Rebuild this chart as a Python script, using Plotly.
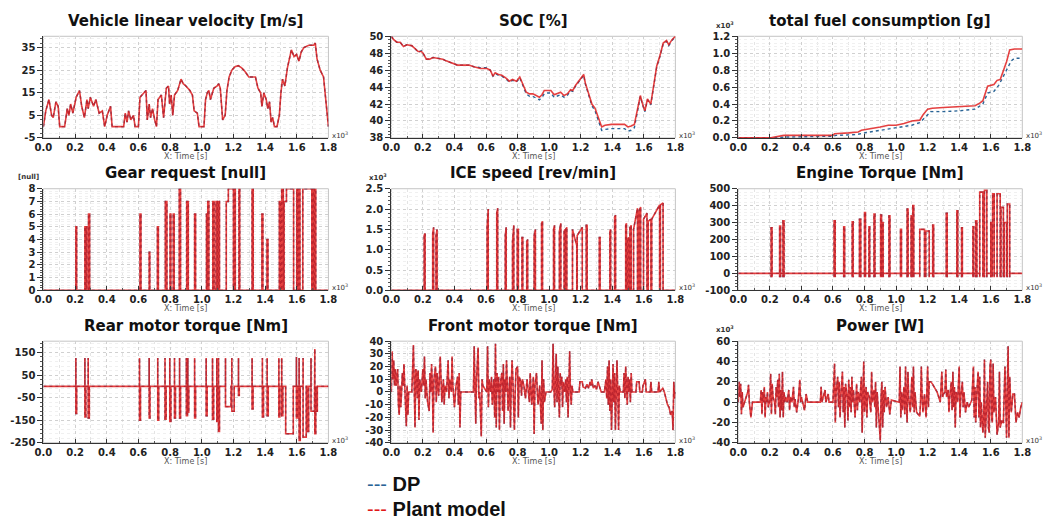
import plotly.graph_objects as go

# ---------------- DATA ----------------
x_ticks = [0.0, 0.2, 0.4, 0.6, 0.8, 1.0, 1.2, 1.4, 1.6, 1.8]

# Vehicle linear velocity [m/s] (time in x10^3 s)
vel_t = [0.0, 0.015, 0.035, 0.052, 0.062, 0.079, 0.093, 0.103, 0.134, 0.151, 0.161, 0.172, 0.186, 0.207,
         0.228, 0.242, 0.259, 0.275, 0.283, 0.296, 0.317, 0.331, 0.352, 0.372, 0.387, 0.403, 0.424, 0.434,
         0.507, 0.517, 0.528, 0.538, 0.552, 0.569, 0.579, 0.600, 0.610, 0.635, 0.648, 0.656, 0.668, 0.677,
         0.689, 0.703, 0.714, 0.724, 0.745, 0.759, 0.776, 0.790, 0.797, 0.807, 0.817, 0.828, 0.848, 0.869,
         0.883, 0.900, 0.925, 0.941, 0.952, 0.972, 0.983, 1.014, 1.024, 1.035, 1.045, 1.055, 1.076, 1.097,
         1.107, 1.117, 1.132, 1.148, 1.159, 1.173, 1.190, 1.210, 1.231, 1.252, 1.272, 1.297, 1.324, 1.339,
         1.355, 1.372, 1.380, 1.392, 1.407, 1.417, 1.428, 1.438, 1.448, 1.459, 1.475, 1.490, 1.500, 1.510,
         1.525, 1.541, 1.566, 1.583, 1.599, 1.614, 1.628, 1.645, 1.676, 1.707, 1.717, 1.728, 1.748, 1.769, 1.800]
vel_v = [0, 7, 12, 5, 4, 11, 9, 0, 0, 8, 5, 10, 6, 13,
         16, 9, 4, 12, 8, 13, 9, 12, 6, 7, 0, 5, 9, 0,
         0, 6, 2, 7, 3, 5, 0, 0, 13, 15, 16, 3, 10, 4,
         8, 3, 0, 12, 14, 4, 17, 18, 10, 14, 5, 14, 16, 21,
         19, 18, 16, 14, 7, 6, 0, 0, 12, 15, 16, 12, 17, 18,
         19, 17, 3, 5, 16, 22, 25, 26.5, 27, 26, 24.5, 22, 22, 22,
         17, 15, 9, 15, 12, 8, 11, 2, 4, 0, 0, 5, 15, 21,
         18, 26, 34, 31, 32, 29, 33, 35, 36, 36, 37, 30, 25, 22, 0]

# SOC [%]
soc_t = [0.0, 0.015, 0.035, 0.056, 0.077, 0.098, 0.129, 0.149, 0.170, 0.191, 0.201, 0.222, 0.243, 0.264,
         0.295, 0.326, 0.347, 0.378, 0.419, 0.461, 0.492, 0.523, 0.565, 0.606, 0.627, 0.644, 0.658, 0.679,
         0.700, 0.731, 0.747, 0.768, 0.793, 0.814, 0.830, 0.845, 0.855, 0.876, 0.897, 0.918, 0.938, 0.955,
         0.969, 0.990, 1.011, 1.032, 1.053, 1.073, 1.094, 1.115, 1.136, 1.150, 1.167, 1.188, 1.208, 1.219,
         1.229, 1.250, 1.271, 1.291, 1.312, 1.333, 1.354, 1.395, 1.437, 1.478, 1.499, 1.520, 1.540, 1.557,
         1.578, 1.592, 1.607, 1.623, 1.644, 1.661, 1.682, 1.702, 1.723, 1.744, 1.758, 1.779, 1.800]
soc_plant = [50, 49.6, 49.3, 49.3, 48.8, 49.0, 48.9, 48.6, 48.2, 48.2, 48.0, 47.3, 47.3, 47.5,
             47.4, 47.3, 47.1, 46.9, 46.6, 46.6, 46.6, 46.4, 46.2, 46.2, 46.0, 45.3, 45.7, 45.5,
             45.4, 45.0, 44.7, 44.9, 44.7, 45.2, 44.5, 44.0, 43.4, 43.2, 43.2, 43.0, 42.8, 43.1,
             43.6, 43.6, 43.6, 43.1, 43.3, 43.4, 43.0, 43.2, 43.7, 43.6, 44.2, 44.7, 45.2, 45.5,
             44.5, 43.3, 42.0, 41.5, 40.5, 39.3, 39.5, 39.6, 39.6, 39.6, 39.3, 39.4, 39.6, 41.0,
             43.0, 42.0, 41.2, 42.6, 42.0, 44.0, 46.5, 47.7, 49.2, 49.5, 49.0, 49.6, 50]
soc_dp = [50, 49.6, 49.3, 49.3, 48.8, 49.0, 48.9, 48.6, 48.1, 48.3, 48.0, 47.3, 47.3, 47.5,
          47.4, 47.3, 47.1, 46.9, 46.6, 46.6, 46.6, 46.4, 46.3, 46.3, 46.0, 45.3, 45.6, 45.4,
          45.3, 44.9, 44.6, 44.8, 44.6, 45.1, 44.4, 43.8, 43.2, 42.9, 42.9, 42.7, 42.5, 42.8,
          43.2, 43.3, 43.3, 42.8, 43.0, 43.1, 42.8, 43.0, 43.6, 43.5, 44.1, 44.6, 45.1, 45.4,
          44.4, 43.1, 41.8, 41.2, 40.1, 38.9, 39.0, 39.1, 39.1, 39.1, 38.8, 38.9, 39.2, 40.8,
          42.9, 41.9, 41.1, 42.5, 41.9, 43.9, 46.4, 47.6, 49.1, 49.4, 48.9, 49.5, 50]

# total fuel consumption [g] (x10^3)
fuel_plant_t = [0.0, 0.2, 0.23, 0.27, 0.29, 0.6, 0.61, 0.7, 0.76, 0.78, 0.85, 0.9, 0.95, 1.0, 1.05, 1.1,
                1.15, 1.17, 1.2, 1.23, 1.3, 1.4, 1.45, 1.5, 1.53, 1.55, 1.58, 1.6, 1.62, 1.64, 1.66, 1.7,
                1.72, 1.75, 1.8]
fuel_plant = [0, 0, 0.01, 0.02, 0.03, 0.03, 0.05, 0.06, 0.07, 0.09, 0.11, 0.13, 0.15, 0.15, 0.17, 0.20,
              0.21, 0.27, 0.34, 0.35, 0.36, 0.37, 0.38, 0.38, 0.41, 0.44, 0.61, 0.62, 0.63, 0.68, 0.69, 0.90,
              1.04, 1.05, 1.05]
fuel_dp_t = [0.0, 0.2, 0.3, 0.6, 0.62, 0.75, 0.8, 0.9, 1.0, 1.1, 1.15, 1.2, 1.22, 1.3, 1.4, 1.5, 1.55,
             1.58, 1.62, 1.65, 1.7, 1.73, 1.75, 1.8]
fuel_dp = [0, 0, 0.01, 0.02, 0.03, 0.04, 0.06, 0.09, 0.12, 0.15, 0.18, 0.27, 0.31, 0.31, 0.32, 0.34, 0.40,
           0.53, 0.55, 0.62, 0.80, 0.91, 0.94, 0.94]

# Gear request [null] (step series)
gear_t = [0.0, 0.205, 0.21, 0.262, 0.267, 0.27, 0.274, 0.285, 0.292, 0.61, 0.616, 0.668, 0.672, 0.72, 0.726,
          0.77, 0.78, 0.8, 0.805, 0.82, 0.826, 0.858, 0.866, 0.905, 0.915, 0.955, 0.961, 1.03, 1.034, 1.038,
          1.045, 1.07, 1.078, 1.09, 1.098, 1.104, 1.112, 1.155, 1.168, 1.2, 1.205, 1.212, 1.235, 1.24, 1.318,
          1.325, 1.38, 1.386, 1.412, 1.418, 1.49, 1.496, 1.505, 1.515, 1.52, 1.535, 1.58, 1.6, 1.605, 1.612,
          1.62, 1.638, 1.695, 1.7, 1.706, 1.712, 1.72, 1.8]
gear_v = [0, 5, 0, 5, 0, 5, 0, 6, 0, 6, 0, 3, 0, 5, 0,
          7, 0, 6, 0, 6, 0, 8, 0, 7, 0, 6, 0, 6, 0, 7,
          0, 7, 0, 7, 0, 7, 0, 7, 8, 0, 8, 0, 8, 0, 8,
          0, 6, 0, 4, 0, 7, 0, 8, 0, 7, 8, 0, 8, 0, 8,
          0, 8, 0, 8, 0, 8, 0, 0]

# ICE speed [rev/min] (x10^3): pulses start, end, level at start, level at end
ice_start = [0.208, 0.262, 0.283, 0.607, 0.668, 0.722, 0.768, 0.798, 0.828, 0.858, 0.905, 0.952, 1.028, 1.065,
             1.095, 1.105, 1.148, 1.178, 1.235, 1.318, 1.385, 1.415, 1.485, 1.495, 1.512, 1.535, 1.57, 1.598,
             1.628, 1.65, 1.705]
ice_end = [0.214, 0.268, 0.29, 0.614, 0.674, 0.728, 0.776, 0.805, 0.833, 0.864, 0.913, 0.958, 1.034, 1.074,
           1.1, 1.112, 1.175, 1.21, 1.241, 1.323, 1.39, 1.421, 1.49, 1.505, 1.52, 1.56, 1.58, 1.62,
           1.645, 1.7, 1.722]
ice_lvl_a = [1.35, 1.4, 1.35, 1.55, 1.9, 1.35, 1.2, 1.5, 1.3, 1.2, 1.35, 1.65, 1.5, 1.45,
             1.45, 1.5, 1.5, 1.35, 1.6, 1.3, 1.45, 1.8, 1.6, 1.25, 1.55, 1.5, 1.95, 1.75,
             1.7, 1.75, 2.1]
ice_lvl_b = [1.4, 1.55, 1.5, 2.0, 2.02, 1.55, 1.6, 1.5, 1.3, 1.25, 1.5, 1.7, 1.6, 1.65,
             1.5, 1.55, 1.1, 1.55, 1.6, 1.3, 1.5, 1.85, 1.65, 1.3, 1.6, 2.02, 2.05, 1.9,
             1.75, 2.1, 2.15]

# Engine Torque [Nm]: pulses start, end, level
eng_start = [0.208, 0.262, 0.283, 0.607, 0.668, 0.722, 0.768, 0.8, 0.828, 0.86, 0.902, 0.912, 0.955, 1.028,
             1.07, 1.095, 1.106, 1.15, 1.188, 1.232, 1.318, 1.385, 1.415, 1.487, 1.505, 1.53, 1.56, 1.6,
             1.612, 1.64, 1.665, 1.685, 1.705]
eng_end = [0.214, 0.268, 0.29, 0.614, 0.674, 0.728, 0.776, 0.806, 0.833, 0.866, 0.908, 0.918, 0.961, 1.034,
           1.076, 1.1, 1.112, 1.18, 1.21, 1.238, 1.324, 1.391, 1.42, 1.492, 1.512, 1.55, 1.575, 1.61,
           1.622, 1.66, 1.68, 1.7, 1.72]
eng_lvl = [270, 280, 310, 310, 275, 305, 320, 360, 275, 350, 345, 300, 340, 260,
           380, 340, 400, 260, 250, 285, 355, 370, 270, 275, 310, 480, 490, 300,
           470, 470, 390, 300, 410]
eng_dip = -22

# Rear motor torque [Nm]: pulses start, end, positive peak, negative level
rear_start = [0.205, 0.262, 0.283, 0.607, 0.668, 0.722, 0.768, 0.798, 0.828, 0.86, 0.903, 0.912, 0.955, 1.028,
              1.068, 1.095, 1.106, 1.15, 1.19, 1.232, 1.318, 1.383, 1.413, 1.487, 1.505, 1.53, 1.598, 1.615,
              1.64, 1.665, 1.69, 1.714, 1.722]
rear_end = [0.21, 0.268, 0.29, 0.613, 0.673, 0.728, 0.775, 0.805, 0.834, 0.866, 0.91, 0.918, 0.961, 1.034,
            1.075, 1.1, 1.112, 1.185, 1.205, 1.237, 1.324, 1.39, 1.42, 1.493, 1.512, 1.578, 1.605, 1.622,
            1.66, 1.675, 1.712, 1.72, 1.73]
rear_peak = [125, 125, 125, 125, 125, 125, 125, 125, 125, 125, 125, 125, 125, 125,
             125, 125, 125, 125, 125, 125, 125, 125, 125, 125, 125, 0, 130, 125,
             125, 0, 125, 165, 0]
rear_low = [-120, -135, -140, -150, -140, -150, -145, -155, -140, -140, -130, -115, -140, -130,
            -145, -155, -200, -90, -110, -40, -100, -135, -130, -135, -130, -210, -140, -240,
            -225, -200, -110, -210, -110]

# Front motor torque [Nm]
front_pts = [(0.0, 0), (0.005, 32), (0.01, 10), (0.015, 25), (0.02, 5), (0.025, 18), (0.03, 5), (0.04, 18),
             (0.045, -10), (0.05, -18), (0.055, 5), (0.06, -12), (0.065, 0), (0.07, 15), (0.075, 5), (0.08, 22),
             (0.085, 5), (0.09, -8), (0.095, -27), (0.1, 5), (0.105, -18), (0.11, 0), (0.13, 0), (0.14, 37),
             (0.145, 10), (0.15, -28), (0.155, 18), (0.16, 15), (0.165, -5), (0.17, 17), (0.175, -22), (0.18, 10),
             (0.19, 0), (0.2, 18), (0.205, 5), (0.21, 28), (0.215, -5), (0.22, 10), (0.225, 0), (0.23, -8),
             (0.24, -15), (0.245, 15), (0.25, 0), (0.255, 22), (0.26, 5), (0.265, -32), (0.27, 10), (0.28, 20),
             (0.285, -8), (0.29, 15), (0.295, 5), (0.3, -3), (0.31, 28), (0.315, 5), (0.32, -8), (0.33, 10),
             (0.335, -10), (0.34, 5), (0.35, 0), (0.36, 25), (0.365, -5), (0.37, 10), (0.38, 0), (0.385, 28),
             (0.39, 5), (0.4, -12), (0.41, 5), (0.42, 12), (0.425, -10), (0.43, 15), (0.435, -28), (0.44, 0),
             (0.52, 0), (0.525, 36), (0.53, 0), (0.535, -25), (0.54, 10), (0.55, 35), (0.555, -5), (0.56, 0),
             (0.57, -35), (0.575, 10), (0.58, 5), (0.6, 0), (0.605, 0), (0.61, 36), (0.615, -12), (0.62, 10),
             (0.63, 0), (0.635, 12), (0.64, -10), (0.65, 10), (0.655, -20), (0.66, 38), (0.665, -28), (0.67, 15),
             (0.675, 0), (0.68, 12), (0.685, -30), (0.69, 5), (0.7, 15), (0.705, -15), (0.71, 22), (0.715, -25),
             (0.72, 10), (0.725, 0), (0.73, 25), (0.735, 5), (0.74, -15), (0.75, 12), (0.755, -28), (0.76, 5),
             (0.765, 25), (0.77, 10), (0.78, -30), (0.785, 0), (0.79, 18), (0.8, 20), (0.805, -20), (0.81, 12),
             (0.82, 8), (0.825, -3), (0.83, 10), (0.84, 5), (0.85, -5), (0.86, 10), (0.87, 0), (0.875, -8),
             (0.88, 15), (0.885, 5), (0.89, -10), (0.9, 12), (0.905, -33), (0.91, 5), (0.92, 15), (0.925, 0),
             (0.93, -10), (0.94, 5), (0.95, -25), (0.955, 25), (0.96, -30), (0.965, 10), (0.97, -8), (0.98, 0),
             (1.01, 0), (1.02, 2), (1.025, 38), (1.03, 5), (1.035, -12), (1.04, 10), (1.045, 30), (1.05, -8),
             (1.055, 20), (1.06, 0), (1.065, -20), (1.07, 15), (1.075, 5), (1.08, 12), (1.085, -12), (1.09, 8),
             (1.1, 0), (1.105, 10), (1.11, -8), (1.115, 12), (1.12, -20), (1.125, 5), (1.13, 32), (1.135, 0),
             (1.14, -10), (1.145, 5), (1.15, 0), (1.19, 0), (1.195, 8), (1.21, 8), (1.215, 4), (1.23, 3),
             (1.24, 6), (1.25, 3), (1.26, 8), (1.265, 5), (1.27, 10), (1.28, 3), (1.29, 5), (1.3, 2),
             (1.31, 8), (1.32, 4), (1.33, 0), (1.35, 0), (1.36, 10), (1.365, -5), (1.37, 20), (1.375, -10),
             (1.38, 25), (1.385, -15), (1.39, 10), (1.395, -30), (1.4, 5), (1.405, 22), (1.41, -8), (1.415, 15),
             (1.42, -30), (1.425, 8), (1.43, 25), (1.435, 0), (1.44, -30), (1.445, 5), (1.45, 0), (1.47, 0),
             (1.475, 15), (1.48, -5), (1.485, 20), (1.49, 5), (1.495, -10), (1.5, 12), (1.505, 0), (1.51, 10),
             (1.515, -8), (1.52, 15), (1.525, 0), (1.55, 0), (1.555, 8), (1.57, 8), (1.575, 0), (1.59, 0),
             (1.595, 5), (1.61, 10), (1.615, 0), (1.64, 0), (1.645, 8), (1.65, 0), (1.69, 0), (1.695, 8),
             (1.7, 0), (1.72, 3), (1.73, 0), (1.74, -5), (1.75, -10), (1.76, -12), (1.77, -18), (1.78, -15),
             (1.785, -30), (1.79, 8), (1.795, -5), (1.8, 0)]

# Power [W] (x10^3)
power_pts = [(0.0, 0), (0.005, 20), (0.01, 5), (0.015, 18), (0.02, -12), (0.025, 10), (0.03, -5), (0.04, 0),
             (0.05, 5), (0.06, 10), (0.065, 17), (0.07, 0), (0.08, -15), (0.09, 0), (0.14, 0), (0.145, 12),
             (0.15, -12), (0.155, 10), (0.16, 0), (0.165, 15), (0.17, -15), (0.175, 5), (0.18, 0), (0.185, 10),
             (0.19, -5), (0.2, 2), (0.205, 28), (0.21, -12), (0.215, 18), (0.22, 5), (0.23, 0), (0.235, -12),
             (0.24, 15), (0.245, 5), (0.25, 22), (0.255, -5), (0.26, 28), (0.265, -15), (0.27, 12), (0.275, -8),
             (0.28, 30), (0.285, -15), (0.29, 10), (0.295, 0), (0.3, 5), (0.31, 0), (0.32, 12), (0.325, -8),
             (0.33, 5), (0.34, 0), (0.35, 15), (0.355, -5), (0.36, 3), (0.37, -10), (0.38, 2), (0.39, 22),
             (0.395, 0), (0.4, 5), (0.42, -8), (0.425, 0), (0.43, 8), (0.44, 0), (0.52, 0), (0.525, 15),
             (0.53, 0), (0.55, 12), (0.555, 0), (0.57, 8), (0.575, 0), (0.6, 0), (0.61, 38), (0.615, -20),
             (0.62, 10), (0.63, 25), (0.635, -5), (0.64, 20), (0.645, -15), (0.65, 5), (0.66, 30), (0.665, -10),
             (0.67, 15), (0.675, -25), (0.68, 18), (0.69, 5), (0.695, -18), (0.7, 22), (0.705, -5), (0.71, 15),
             (0.715, -10), (0.72, 25), (0.725, 0), (0.73, 12), (0.74, -15), (0.75, 18), (0.755, -8), (0.76, 10),
             (0.77, 0), (0.78, 25), (0.785, -30), (0.79, 5), (0.795, 40), (0.8, -10), (0.81, 15), (0.815, -15),
             (0.82, 10), (0.83, 5), (0.84, -10), (0.845, 30), (0.85, 0), (0.86, 12), (0.865, -5), (0.87, 20),
             (0.875, -25), (0.88, 10), (0.89, -10), (0.9, -38), (0.905, 5), (0.91, 20), (0.915, -25), (0.92, 12),
             (0.925, -10), (0.93, 15), (0.94, -5), (0.95, 5), (0.96, -12), (0.97, 2), (1.02, 0), (1.025, 35),
             (1.03, -15), (1.035, 10), (1.04, -8), (1.05, 15), (1.055, -12), (1.06, 35), (1.065, 0), (1.07, -20),
             (1.075, 30), (1.08, 5), (1.09, -10), (1.1, 25), (1.105, -5), (1.11, 35), (1.115, -10), (1.12, 10),
             (1.13, -10), (1.14, -12), (1.15, -14), (1.155, 0), (1.16, 35), (1.165, 5), (1.17, -10), (1.18, 8),
             (1.19, -15), (1.2, 35), (1.205, -5), (1.21, 20), (1.22, 20), (1.23, 18), (1.24, 15), (1.25, 12),
             (1.26, 10), (1.27, 5), (1.28, 0), (1.29, 30), (1.295, 5), (1.3, 8), (1.31, 10), (1.315, 32),
             (1.32, 5), (1.33, 12), (1.335, -10), (1.34, 5), (1.35, 20), (1.355, -8), (1.36, 30), (1.365, -5),
             (1.37, 15), (1.375, -25), (1.38, 10), (1.39, 0), (1.4, 35), (1.405, -15), (1.41, 5), (1.42, 20),
             (1.425, -5), (1.43, 10), (1.44, -10), (1.45, 0), (1.46, -5), (1.48, 2), (1.49, 35), (1.495, -15),
             (1.5, 15), (1.505, -20), (1.51, 5), (1.52, 30), (1.525, -15), (1.53, 25), (1.535, -25), (1.54, 0),
             (1.55, -30), (1.555, -20), (1.56, 42), (1.565, -35), (1.57, -15), (1.58, 20), (1.585, -25),
             (1.59, -30), (1.595, 35), (1.6, 42), (1.605, -15), (1.61, -20), (1.615, 38), (1.62, -10), (1.63, 5),
             (1.635, -30), (1.64, -32), (1.65, -20), (1.655, 30), (1.66, -25), (1.67, -18), (1.675, -20),
             (1.68, -20), (1.69, 35), (1.695, -28), (1.7, -35), (1.705, 10), (1.71, 55), (1.715, -35), (1.72, 25),
             (1.725, 5), (1.73, -10), (1.74, 8), (1.75, 8), (1.76, -20), (1.77, -10), (1.78, -15), (1.79, -5),
             (1.8, 0)]

# y tick values per panel
vel_yticks = [-5, 5, 15, 25, 35]
soc_yticks = [38, 40, 42, 44, 46, 48, 50]
fuel_yticks = [0.0, 0.2, 0.4, 0.6, 0.8, 1.0, 1.2]
gear_yticks = [0, 1, 2, 3, 4, 5, 6, 7, 8]
ice_yticks = [0.0, 0.5, 1.0, 1.5, 2.0, 2.5]
eng_yticks = [-100, 0, 100, 200, 300, 400, 500]
rear_yticks = [-250, -150, -50, 50, 150]
front_yticks = [-40, -30, -20, -10, 0, 10, 20, 30, 40]
power_yticks = [-40, -20, 0, 20, 40, 60]

# ---------------- BUILD SERIES ----------------
def pulse_ramp(starts, ends, a, b):
    xs, ys = [0.0], [0.0]
    for s, e, va, vb in zip(starts, ends, a, b):
        xs += [s, s, e, e]
        ys += [0, va, vb, 0]
    xs.append(1.8); ys.append(0)
    return xs, ys

def pulse_dip(starts, ends, lvl, dip):
    xs, ys = [0.0], [0.0]
    for s, e, v in zip(starts, ends, lvl):
        xs += [s, s, s, e, e, e]
        ys += [0, dip, v, v, dip, 0]
    xs.append(1.8); ys.append(0)
    return xs, ys

def pulse_rear(starts, ends, peak, low):
    xs, ys = [0.0], [0.0]
    for s, e, p, l in zip(starts, ends, peak, low):
        xs += [s, s, s, e, e]
        ys += [0, p, l, l, 0]
    xs.append(1.8); ys.append(0)
    return xs, ys

ice_x, ice_y = pulse_ramp(ice_start, ice_end, ice_lvl_a, ice_lvl_b)
eng_x, eng_y = pulse_dip(eng_start, eng_end, eng_lvl, eng_dip)
rear_x, rear_y = pulse_rear(rear_start, rear_end, rear_peak, rear_low)
front_t = [p[0] for p in front_pts]
front_v = [p[1] for p in front_pts]
power_t = [p[0] for p in power_pts]
power_v = [p[1] for p in power_pts]

# panel: (title, dp_x, dp_y, plant_x, plant_y, yrange, yticks, minor dtick, tickfmt, shape, ylabel)
panels = [
    ("Vehicle linear velocity [m/s]", vel_t, vel_v, vel_t, vel_v, [-5, 40], vel_yticks, 2, "{:d}", "linear", None),
    ("SOC [%]", soc_t, soc_dp, soc_t, soc_plant, [38, 50], soc_yticks, 0.4, "{:d}", "linear", None),
    ("total fuel consumption [g]", fuel_dp_t, fuel_dp, fuel_plant_t, fuel_plant, [0, 1.2], fuel_yticks, 0.04,
     "{:.1f}", "linear", "x10<sup>3</sup>"),
    ("Gear request [null]", gear_t, gear_v, gear_t, gear_v, [0, 8], gear_yticks, 0.2, "{:d}", "hv", "[null]"),
    ("ICE speed [rev/min]", ice_x, ice_y, ice_x, ice_y, [0, 2.5], ice_yticks, 0.1, "{:.1f}", "linear",
     "x10<sup>3</sup>"),
    ("Engine Torque [Nm]", eng_x, eng_y, eng_x, eng_y, [-100, 500], eng_yticks, 20, "{:d}", "linear", None),
    ("Rear motor torque [Nm]", rear_x, rear_y, rear_x, rear_y, [-250, 200], rear_yticks, 20, "{:d}", "linear", None),
    ("Front motor torque [Nm]", front_t, front_v, front_t, front_v, [-40, 40], front_yticks, 2, "{:d}", "linear",
     None),
    ("Power [W]", power_t, power_v, power_t, power_v, [-40, 60], power_yticks, 4, "{:d}", "linear",
     "x10<sup>3</sup>"),
]

# ---------------- LAYOUT ----------------
W, H = 1050, 526
cols = [(35, 325), (389, 678), (742, 1031)]
rows = [(31, 135), (187, 291), (343, 447)]
FONT = "DejaVu Sans"
DP_COLOR = "#2a6496"
PLANT_COLOR = "#e01818"

fig = go.Figure()
layout = dict(
    width=W, height=H, margin=dict(l=0, r=0, t=0, b=0),
    paper_bgcolor="white", plot_bgcolor="white", showlegend=False,
    font=dict(family=FONT, color="#222"),
)
annotations = []
shapes = []

for i, (title, dx, dy, px_, py_, yr, yticks, mdt, fmt, shape, ylab) in enumerate(panels):
    r, c = divmod(i, 3)
    n = "" if i == 0 else str(i + 1)
    x0, x1 = cols[c]
    yt, yb = rows[r]
    fig.add_trace(go.Scatter(x=dx, y=dy, mode="lines", line=dict(color=DP_COLOR, width=1.4, dash="dot", shape=shape),
                             xaxis="x" + n, yaxis="y" + n, name="DP"))
    fig.add_trace(go.Scatter(x=px_, y=py_, mode="lines", line=dict(color=PLANT_COLOR, width=1.6, shape=shape),
                             opacity=0.82, xaxis="x" + n, yaxis="y" + n, name="Plant model"))
    layout["xaxis" + n] = dict(
        domain=[x0 / W, x1 / W], anchor="y" + n, range=[0, 1.8], tickvals=x_ticks,
        ticktext=["{:.1f}".format(v) for v in x_ticks],
        showgrid=True, gridcolor="#d0d0d0", griddash="dot", gridwidth=1, zeroline=False,
        showline=True, linecolor="#333", linewidth=1, mirror=False, ticks="inside", ticklen=4, tickcolor="#333",
        tickfont=dict(family=FONT, size=10, color="#222", weight="bold"),
        minor=dict(dtick=0.1, tick0=0, showgrid=True, gridcolor="#e4e4e4", griddash="dot", ticks="inside",
                   ticklen=2, tickcolor="#555"),
    )
    layout["yaxis" + n] = dict(
        domain=[1 - yb / H, 1 - yt / H], anchor="x" + n, range=yr, tickvals=yticks,
        ticktext=[fmt.format(v).replace("\u2212", "-") for v in yticks],
        showgrid=True, gridcolor="#d0d0d0", griddash="dot", gridwidth=1, zeroline=False,
        showline=True, linecolor="#333", linewidth=1, mirror=False, ticks="outside", ticklen=5, tickcolor="#333",
        tickfont=dict(family=FONT, size=10, color="#222", weight="bold"),
        minor=dict(dtick=mdt, tick0=yr[0], ticks="outside", ticklen=2, tickcolor="#555", showgrid=True,
                   gridcolor="#f0f0f0", griddash="dot"),
    )
    shapes.append(dict(type="rect", xref="paper", yref="paper", x0=x0 / W, x1=x1 / W, y0=1 - yb / H, y1=1 - yt / H,
                       line=dict(color="#c4c4c4", width=1), layer="below"))
    xc = (x0 + x1) / 2 / W
    annotations.append(dict(text="<b>%s</b>" % title, x=xc, y=1 - (yt - 16) / H, xref="paper", yref="paper",
                            xanchor="center", yanchor="middle", showarrow=False,
                            font=dict(family=FONT, size=15, color="#111")))
    annotations.append(dict(text="X: Time [s]", x=xc, y=1 - (yb + 19) / H, xref="paper", yref="paper",
                            xanchor="center", yanchor="middle", showarrow=False,
                            font=dict(family=FONT, size=8, color="#555")))
    annotations.append(dict(text="x10<sup>3</sup>", x=(x1 + 2) / W, y=1 - (yb - 3) / H, xref="paper", yref="paper",
                            xanchor="left", yanchor="middle", showarrow=False,
                            font=dict(family=FONT, size=7, color="#333")))
    if ylab:
        annotations.append(dict(text="<b>%s</b>" % ylab, x=(x0 - 2) / W, y=1 - (yt - 12) / H, xref="paper",
                                yref="paper", xanchor="right", yanchor="middle", showarrow=False,
                                font=dict(family=FONT, size=7, color="#333")))

# legend block
annotations.append(dict(text='<span style="color:%s">---</span> <b>DP</b>' % DP_COLOR, x=362 / W, y=1 - 489 / H,
                        xref="paper", yref="paper", xanchor="left", yanchor="middle", showarrow=False,
                        font=dict(family="Liberation Sans", size=20, color="#111")))
annotations.append(dict(text='<span style="color:%s">---</span> <b>Plant model</b>' % PLANT_COLOR, x=362 / W,
                        y=1 - 515 / H, xref="paper", yref="paper", xanchor="left", yanchor="middle",
                        showarrow=False, font=dict(family="Liberation Sans", size=20, color="#111")))

layout["annotations"] = annotations
layout["shapes"] = shapes
fig.update_layout(**layout)
fig.write_html("out.html")
